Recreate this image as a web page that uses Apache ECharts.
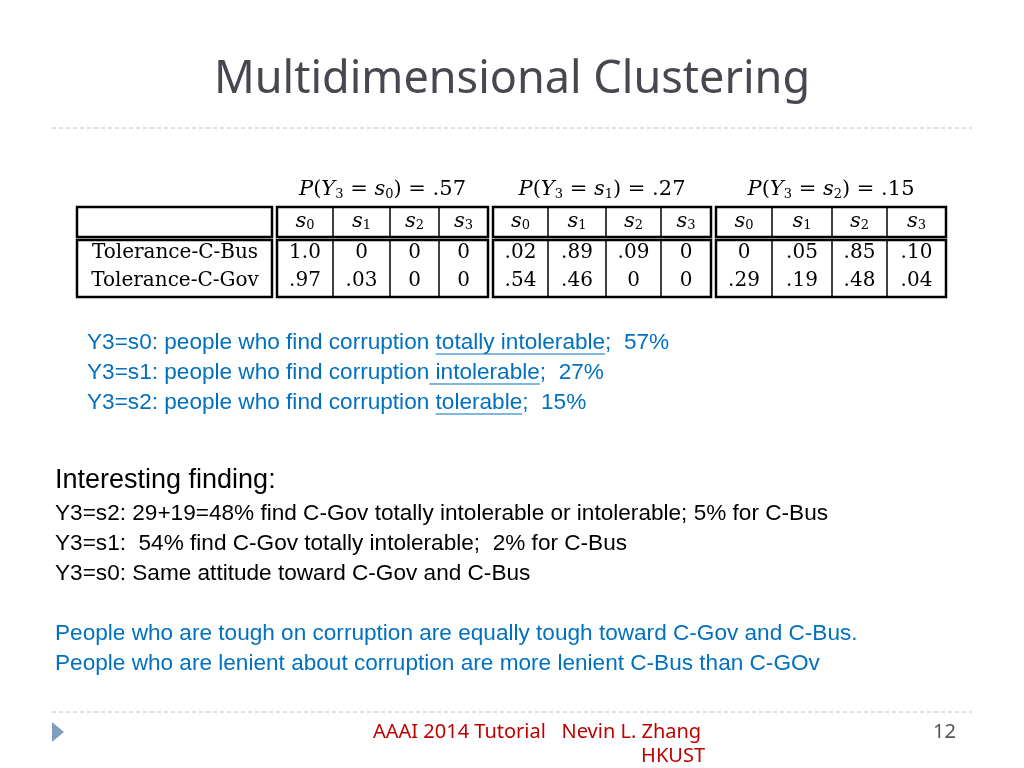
<!DOCTYPE html>
<html><head><meta charset="utf-8">
<script src="https://cdn.jsdelivr.net/npm/echarts@6/dist/echarts.min.js"></script>
<style>html,body{margin:0;background:#fff}#c{width:1024px;height:768px}</style>
</head><body><div id="c"></div>
<script>
var groupTitles = ['.57', '.27', '.15'];
var stateLabels = ['0', '1', '2', '3'];
var rowNames = ['Tolerance-C-Bus', 'Tolerance-C-Gov'];
var busValues = [['1.0', '0', '0', '0'], ['.02', '.89', '.09', '0'], ['0', '.05', '.85', '.10']];
var govValues = [['.97', '.03', '0', '0'], ['.54', '.46', '0', '0'], ['.29', '.19', '.48', '.04']];
var bluePre = ['Y3=s0: people who find corruption ', 'Y3=s1: people who find corruption', 'Y3=s2: people who find corruption '];
var blueUnder = ['totally intolerable', ' intolerable', 'tolerable'];
var bluePost = [';  57%', ';  27%', ';  15%'];
var blackLines = ['Y3=s2: 29+19=48% find C-Gov totally intolerable or intolerable; 5% for C-Bus',
  'Y3=s1:  54% find C-Gov totally intolerable;  2% for C-Bus',
  'Y3=s0: Same attitude toward C-Gov and C-Bus'];
var conclusion = ['People who are tough on corruption are equally tough toward C-Gov and C-Bus.',
  'People who are lenient about corruption are more lenient C-Bus than C-GOv'];

var groups = [[277, 333, 390, 439, 488], [493, 548, 606, 661, 711], [716, 772, 832, 887, 946]];
var serif = '"DejaVu Serif", "Liberation Serif", serif';
var sans = '"Liberation Sans", Arial, sans-serif';
var bodyFont = '22.6px ' + sans;
var g = [];
var ctx = document.createElement('canvas').getContext('2d');
function measure(t, f) { ctx.font = f; return ctx.measureText(t).width; }
function rect(x, y, w, h, lw) {
  g.push({type: 'rect', shape: {x: x, y: y, width: w, height: h}, style: {fill: 'none', stroke: '#000', lineWidth: lw}});
}
function line(x1, y1, x2, y2, st) {
  g.push({type: 'line', shape: {x1: x1, y1: y1, x2: x2, y2: y2}, style: Object.assign({stroke: '#000', lineWidth: 1.5}, st || {})});
}
function text(x, y, t, st) {
  g.push({type: 'text', x: x, y: y, style: Object.assign({text: t, textVerticalAlign: 'middle'}, st)});
}
text(512, 80, 'Multidimensional Clustering', {font: '45px "Noto Sans", sans-serif', fill: '#474750', textAlign: 'center'});
line(52, 128, 972, 128, {stroke: '#b8c4d0', lineDash: [4, 3], lineWidth: 1});
line(52, 712, 972, 712, {stroke: '#b8c4d0', lineDash: [4, 3], lineWidth: 1});
rect(77, 207, 195, 30, 2.5);
rect(77, 240, 195, 57, 2.5);
rowNames.forEach(function (n, i) {
  text(175, 253 + i * 28, n, {font: '20px ' + serif, fill: '#000', textAlign: 'center'});
});
groups.forEach(function (c, gi) {
  var gx = (c[0] + c[4]) / 2;
  g.push({type: 'text', x: gx, y: 190, style: {
    text: '{i|P}({i|Y}{sub|3} = {i|s}{sub|' + gi + '}) = ' + groupTitles[gi],
    textAlign: 'center', textVerticalAlign: 'middle', font: '21px ' + serif, fill: '#000',
    rich: {i: {fontStyle: 'italic', fontSize: 21, fontFamily: serif}, sub: {fontSize: 13, fontFamily: serif, padding: [10, 0, 0, 0]}}
  }});
  rect(c[0], 207, c[4] - c[0], 30, 2.5);
  rect(c[0], 240, c[4] - c[0], 57, 2.5);
  for (var k = 1; k < 4; k++) {
    line(c[k], 207, c[k], 237);
    line(c[k], 240, c[k], 297);
  }
  for (k = 0; k < 4; k++) {
    var cx = (c[k] + c[k + 1]) / 2;
    g.push({type: 'text', x: cx, y: 222, style: {
      text: '{i|s}{sub|' + stateLabels[k] + '}', textAlign: 'center', textVerticalAlign: 'middle', fill: '#000',
      rich: {i: {fontStyle: 'italic', fontSize: 21, fontFamily: serif}, sub: {fontSize: 13, fontFamily: serif, padding: [8, 0, 0, 0]}}
    }});
    text(cx, 253, busValues[gi][k], {font: '20px ' + serif, fill: '#000', textAlign: 'center'});
    text(cx, 281, govValues[gi][k], {font: '20px ' + serif, fill: '#000', textAlign: 'center'});
  }
});
bluePre.forEach(function (p, i) {
  var y = 343 + i * 30;
  text(87, y, p + blueUnder[i] + bluePost[i], {font: bodyFont, fill: '#0070c0'});
  var x1 = 87 + measure(p, bodyFont), x2 = x1 + measure(blueUnder[i], bodyFont);
  line(x1, y + 11, x2, y + 11, {stroke: '#0070c0', lineWidth: 1.2});
});
text(55, 481, 'Interesting finding:', {font: '27px ' + sans, fill: '#000'});
blackLines.forEach(function (t, i) {
  text(55, 514 + i * 30, t, {font: bodyFont, fill: '#000'});
});
conclusion.forEach(function (t, i) {
  text(55, 634 + i * 30, t, {font: bodyFont, fill: '#0070c0'});
});
g.push({type: 'polygon', shape: {points: [[52, 722], [64, 732], [52, 742]]}, style: {fill: '#7f9fbf'}});
text(373, 732, 'AAAI 2014 Tutorial   Nevin L. Zhang', {font: '20px "Noto Sans", sans-serif', fill: '#c00000'});
text(705, 756, 'HKUST', {font: '20px "Noto Sans", sans-serif', fill: '#c00000', textAlign: 'right'});
text(956, 732, '12', {font: '20px "Noto Sans", sans-serif', fill: '#555', textAlign: 'right'});

var chart = echarts.init(document.getElementById('c'));
chart.setOption({animation: false, graphic: {elements: g}});
</script></body></html>
